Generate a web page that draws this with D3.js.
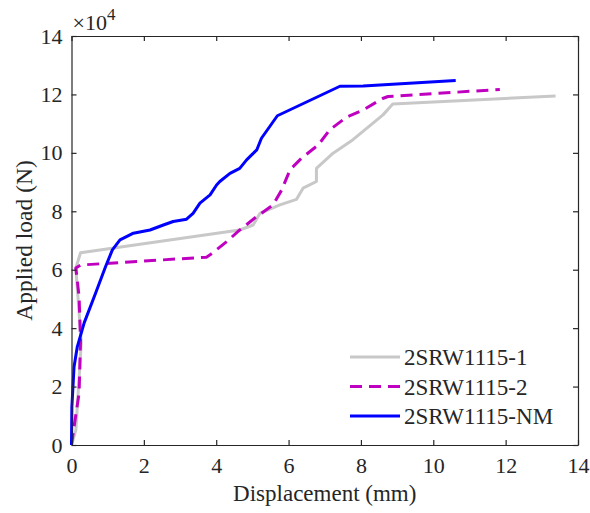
<!DOCTYPE html>
<html>
<head>
<meta charset="utf-8">
<script src="https://cdn.jsdelivr.net/npm/d3@7"></script>
<style>
  body { margin: 0; background: #fff; }
  text { font-family: "Liberation Serif", "Times New Roman", serif; fill: #262626; }
</style>
</head>
<body>
<script>
// data: displacement (mm), load (x10^4 N)
var names = ["2SRW1115-1", "2SRW1115-2", "2SRW1115-NM"];
var xTicks = [0, 2, 4, 6, 8, 10, 12, 14];
var yTicks = [0, 2, 4, 6, 8, 10, 12, 14];

var disp1 = [0, 0.12, 0.27, 0.12, 0.25, 4.65, 5.02, 5.21, 5.76, 6.22, 6.40, 6.77, 6.77, 7.23, 7.78, 8.61, 8.88, 13.38];
var load1 = [0, 0.51, 3.49, 6.06, 6.58, 7.36, 7.53, 7.93, 8.22, 8.41, 8.79, 9.02, 9.47, 9.99, 10.45, 11.30, 11.67, 11.95];

var disp2 = [0, 0.07, 0.21, 0.25, 0.21, 0.12, 0.25, 3.73, 3.83, 4.29, 4.65, 5.12, 5.57, 5.81, 6.04, 6.36, 6.82, 7.14, 7.60, 8.06, 8.60, 8.75, 11.84];
var load2 = [0, 0.62, 1.78, 3.60, 5.07, 6.06, 6.16, 6.43, 6.51, 6.96, 7.36, 7.82, 8.22, 8.73, 9.42, 9.82, 10.27, 10.79, 11.22, 11.47, 11.86, 11.93, 12.17];

var disp3 = [0, 0.01, 0.07, 0.16, 0.35, 0.67, 0.94, 1.13, 1.34, 1.52, 1.71, 2.17, 2.54, 2.81, 3.18, 3.36, 3.55, 3.83, 4.01, 4.10, 4.38, 4.65, 4.84, 5.12, 5.25, 5.69, 7.42, 8.06, 10.62];
var load3 = [0, 1.3, 2.67, 3.36, 4.18, 5.21, 6.10, 6.68, 7.02, 7.13, 7.25, 7.36, 7.53, 7.65, 7.73, 7.93, 8.28, 8.56, 8.90, 9.02, 9.30, 9.47, 9.76, 10.10, 10.50, 11.27, 12.28, 12.29, 12.48];

var colors = ["#c8c8c8", "#c000c0", "#0000ff"];
var dashes = [null, "12,7", null];

var w = 590, h = 513;
var mLeft = 71.5, mRight = 578, mTop = 36, mBottom = 445;

var svg = d3.select("body").append("svg")
    .attr("width", w)
    .attr("height", h);

var x = d3.scaleLinear().domain([0, 14]).range([mLeft, mRight]);
var y = d3.scaleLinear().domain([0, 14]).range([mBottom, mTop]);

var series = [
    d3.zip(disp1, load1),
    d3.zip(disp2, load2),
    d3.zip(disp3, load3)
];

var line = d3.line()
    .x(function(d){ return x(d[0]); })
    .y(function(d){ return y(d[1]); });

// curves
series.forEach(function(s, i){
    svg.append("path")
        .datum(s)
        .attr("d", line)
        .attr("fill", "none")
        .attr("stroke", colors[i])
        .attr("stroke-width", 3)
        .attr("stroke-linejoin", "round")
        .attr("stroke-dasharray", dashes[i]);
});

// axes, ticks pointing inward
var xAxis = svg.append("g")
    .attr("transform", "translate(0," + mBottom + ")")
    .call(d3.axisBottom(x).tickValues(xTicks).tickSizeInner(-5).tickSizeOuter(0).tickPadding(12));
var yAxis = svg.append("g")
    .attr("transform", "translate(" + mLeft + ",0)")
    .call(d3.axisLeft(y).tickValues(yTicks).tickSizeInner(-5).tickSizeOuter(0).tickPadding(9));
svg.append("g")
    .attr("transform", "translate(0," + mTop + ")")
    .call(d3.axisTop(x).tickValues(xTicks).tickSizeInner(-5).tickSizeOuter(0).tickFormat(""));
svg.append("g")
    .attr("transform", "translate(" + mRight + ",0)")
    .call(d3.axisRight(y).tickValues(yTicks).tickSizeInner(-5).tickSizeOuter(0).tickFormat(""));

svg.selectAll(".domain, .tick line")
    .attr("stroke", "#262626")
    .attr("stroke-width", 1.2);
svg.selectAll(".tick text")
    .style("font-family", "Liberation Serif")
    .style("font-size", "22px")
    .attr("fill", "#262626");
xAxis.selectAll(".tick text").attr("dy", "0.71em");

// exponent label
var expo = svg.append("text")
    .attr("x", mLeft + 1)
    .attr("y", 30)
    .style("font-size", "22px");
expo.append("tspan").text("\u00d710");
expo.append("tspan").attr("dy", -10).style("font-size", "17px").text("4");

// axis titles
svg.append("text")
    .attr("x", (mLeft + mRight) / 2)
    .attr("y", 501)
    .attr("text-anchor", "middle")
    .style("font-size", "23px")
    .text("Displacement (mm)");

svg.append("text")
    .attr("transform", "translate(32," + (mTop + mBottom) / 2 + ") rotate(-90)")
    .attr("text-anchor", "middle")
    .style("font-size", "23.5px")
    .text("Applied load (N)");

// legend
var legend = svg.append("g");
names.forEach(function(n, i){
    var ly = 357 + i * 29.5;
    legend.append("line")
        .attr("x1", 350).attr("x2", 400)
        .attr("y1", ly).attr("y2", ly)
        .attr("stroke", colors[i])
        .attr("stroke-width", 3)
        .attr("stroke-dasharray", dashes[i]);
    legend.append("text")
        .attr("x", 404)
        .attr("y", ly + 8)
        .style("font-size", "23px")
        .text(n);
});
</script>
</body>
</html>
